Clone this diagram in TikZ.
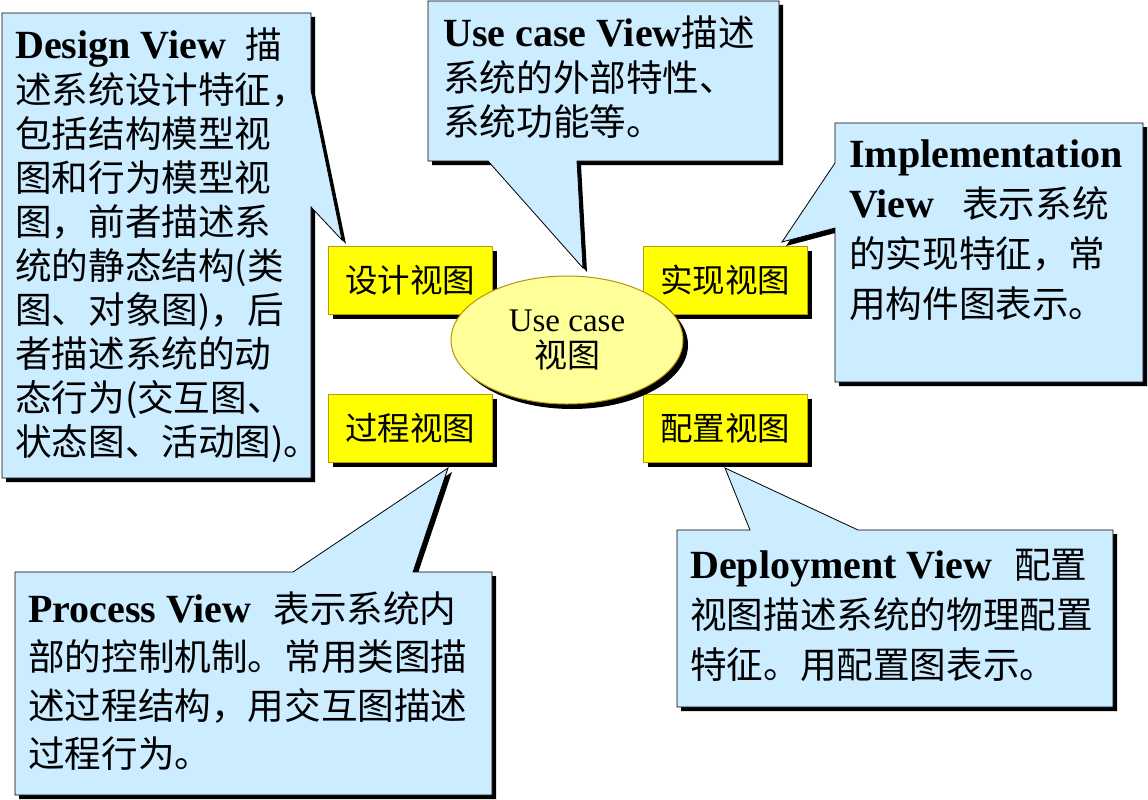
\documentclass[tikz,border=0pt]{standalone}
\usepackage{fontspec}
\setmainfont{Liberation Serif}
\newfontfamily\cjk{Noto Sans CJK SC}
\newfontfamily\latinfont{Liberation Serif}
\usetikzlibrary{shapes.geometric,shadows}
\definecolor{callblue}{HTML}{CCECFF}
\definecolor{viewyellow}{HTML}{FFFF00}
\definecolor{viewborder}{HTML}{B89A10}
\definecolor{ucfill}{HTML}{FFFF99}
\definecolor{ucborder}{HTML}{B8920B}
\newcommand\boldlatin[1]{{\latinfont\bfseries\fontsize{40}{44}\selectfont #1}}
\begin{document}
\begin{tikzpicture}[x=1pt,y=-1pt,
  callout/.style={fill=callblue, draw=black, line width=0.8pt, line join=miter},
  calloutshadow/.style={fill=black, shift={(4,4)}},
  viewbox/.style={rectangle, fill=viewyellow, draw=viewborder, line width=1pt,
    minimum width=164pt, minimum height=68pt, inner sep=0pt,
    font=\cjk\fontsize{32.5}{36}\selectfont,
    drop shadow={fill=black, opacity=1, shadow xshift=5pt, shadow yshift=-5pt}},
  ucnode/.style={ellipse, fill=ucfill, draw=ucborder, line width=1pt,
    minimum width=232pt, minimum height=128pt, inner sep=0pt, align=center,
    font=\fontsize{33}{36}\selectfont,
    drop shadow={fill=black, opacity=1, shadow xshift=5pt, shadow yshift=-5pt}},
  calltext/.style={anchor=north west, inner sep=0pt, align=left}
]
\useasboundingbox (0,0) rectangle (1148,800);
\fill[white] (0,0) rectangle (1148,800);

% ---- Design View callout
\def\designpath{(2,13) -- (311,13) -- (311,90) -- (342,240) -- (311,207) -- (311,478) -- (2,478) -- cycle}
\fill[calloutshadow] \designpath;
\draw[callout] \designpath;
\node[calltext, font=\cjk\fontsize{36.6}{44.1}\selectfont] (designtxt) at (15,28)
  {\boldlatin{Design View}\hspace{20pt}描\\
   述系统设计特征，\\
   包括结构模型视\\
   图和行为模型视\\
   图，前者描述系\\
   统的静态结构(类\\
   图、对象图)，后\\
   者描述系统的动\\
   态行为(交互图、\\
   状态图、活动图)。};

% ---- Use case View callout
\def\usecasepath{(428,1) -- (779,1) -- (779,161) -- (577,161) -- (583,268) -- (488,161) -- (428,161) -- cycle}
\fill[calloutshadow] \usecasepath;
\draw[callout] \usecasepath;
\node[calltext, font=\cjk\fontsize{36.6}{44.5}\selectfont] (usecasetxt) at (443,16)
  {\boldlatin{Use case View}描述\\
   系统的外部特性、\\
   系统功能等。};

% ---- Implementation View callout
\def\implpath{(835,123) -- (1143,123) -- (1143,382) -- (835,382) -- (835,228) -- (782,242) -- (835,163) -- cycle}
\fill[calloutshadow] \implpath;
\draw[callout] \implpath;
\node[calltext, font=\cjk\fontsize{36.6}{50}\selectfont] (impltxt) at (849,140)
  {\boldlatin{Implementation}\\
   \boldlatin{View}\hspace{28pt}表示系统\\
   的实现特征，常\\
   用构件图表示。};

% ---- Process View callout
\def\procpath{(15,572) -- (293,572) -- (448,468) -- (413,572) -- (492,572) -- (492,795) -- (15,795) -- cycle}
\fill[calloutshadow] \procpath;
\draw[callout] \procpath;
\node[calltext, font=\cjk\fontsize{36.6}{48.5}\selectfont] (proctxt) at (28,591)
  {\boldlatin{Process View}\hspace{22pt}表示系统内\\
   部的控制机制。常用类图描\\
   述过程结构，用交互图描述\\
   过程行为。};

% ---- Deployment View callout
\def\deploypath{(677,530) -- (750,530) -- (725,468) -- (858,530) -- (1113,530) -- (1113,707) -- (677,707) -- cycle}
\fill[calloutshadow] \deploypath;
\draw[callout] \deploypath;
\node[calltext, font=\cjk\fontsize{36.6}{50}\selectfont] (deploytxt) at (690,549)
  {\boldlatin{Deployment View}\hspace{22pt}配置\\
   视图描述系统的物理配置\\
   特征。用配置图表示。};

% ---- view boxes
\node[viewbox] (design) at (410,280) {设计视图};
\node[viewbox] (impl)   at (725,280) {实现视图};
\node[viewbox] (proc)   at (410,428) {过程视图};
\node[viewbox] (deploy) at (725,428) {配置视图};

% ---- central ellipse
\node[ucnode] (uc) at (567,340) {Use case\\{\cjk 视图}};
\end{tikzpicture}
\end{document}
